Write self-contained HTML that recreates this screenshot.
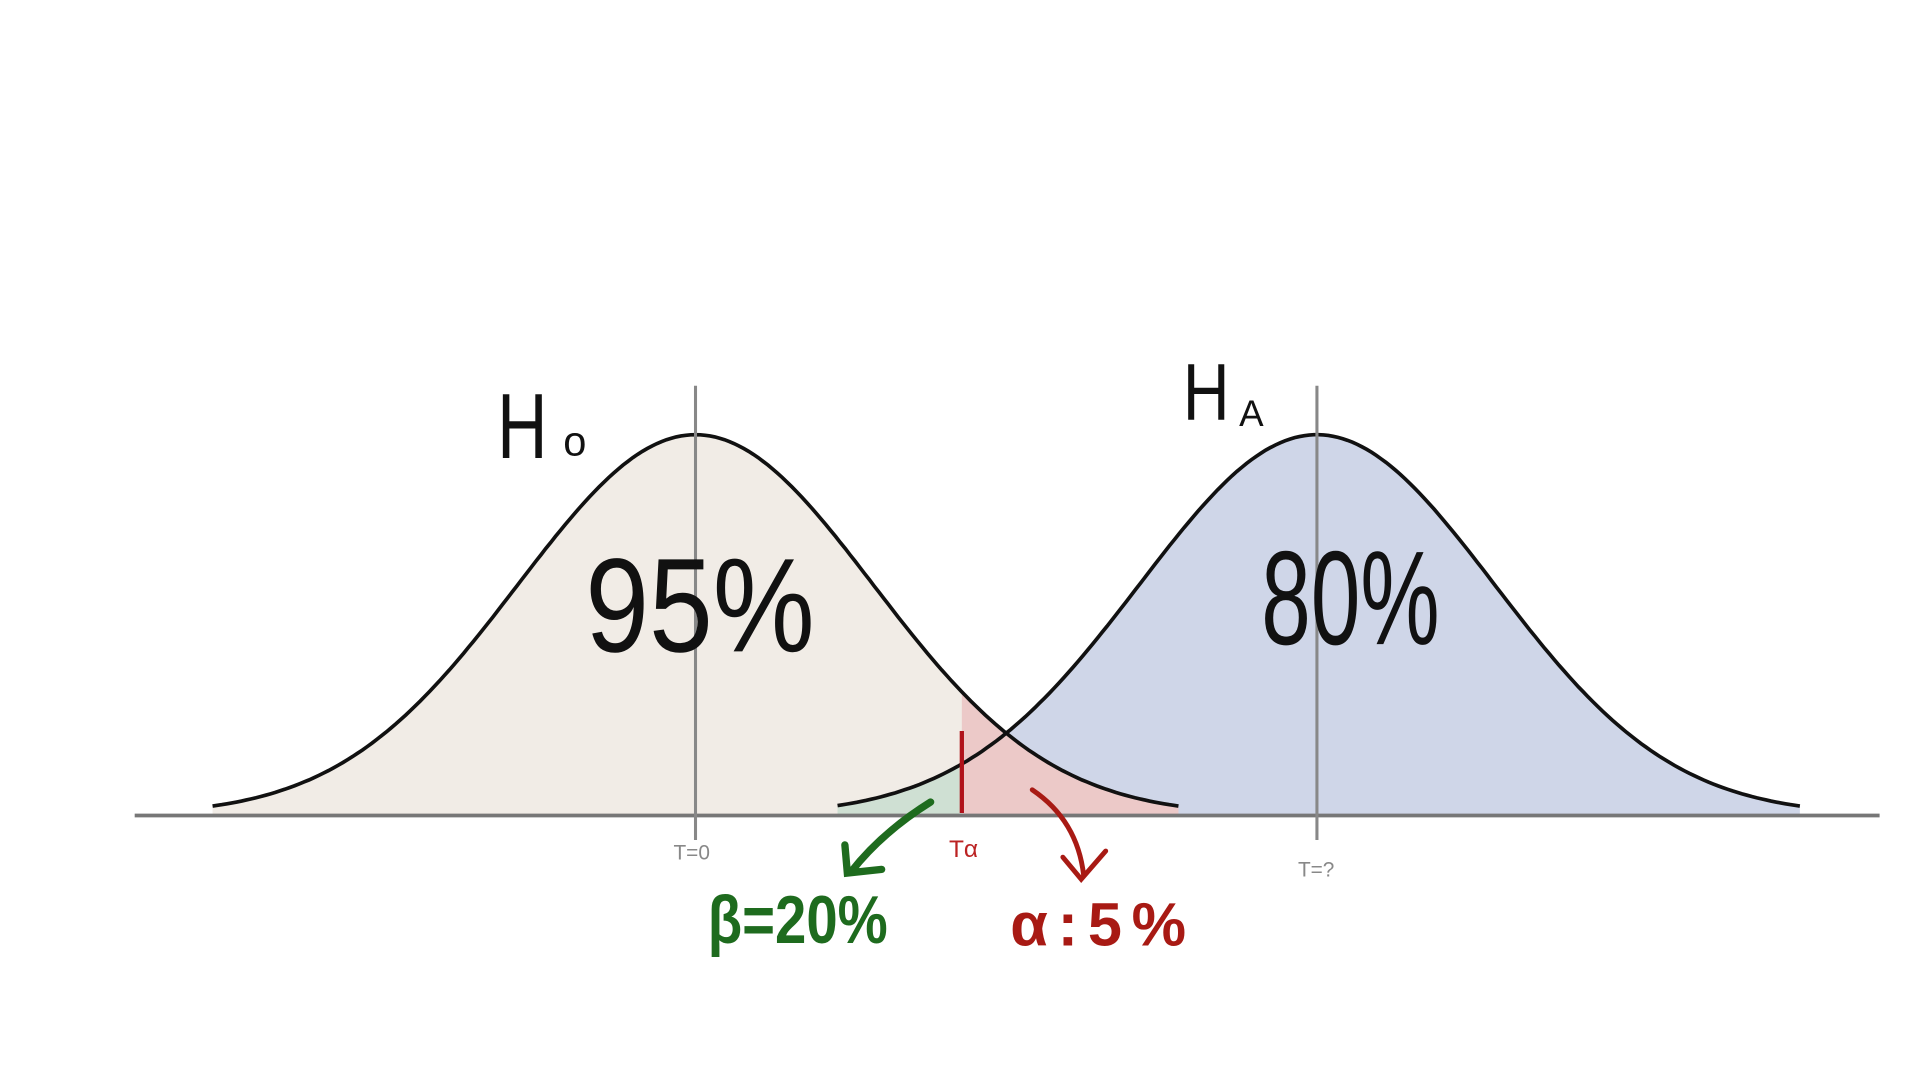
<!DOCTYPE html>
<html><head><meta charset="utf-8"><style>
html,body{margin:0;padding:0;background:#fff;}
svg{display:block;}
text{font-family:"Liberation Sans",sans-serif;}
</style></head><body>
<svg id="chart" width="1920" height="1080" viewBox="0 0 1568 882" xmlns="http://www.w3.org/2000/svg">
<g id="fills"></g>
<line x1="110" y1="666" x2="1535" y2="666" stroke="#777" stroke-width="3"/>
<g id="curves"></g>
<g id="marks"></g>
<text x="0" y="0" font-size="76" fill="#111" transform="translate(406,374) scale(0.75,1)">H</text>
<text x="460" y="372" font-size="34" fill="#111">o</text>
<text x="0" y="0" font-size="66" fill="#111" transform="translate(966,343) scale(0.8,1)">H</text>
<text x="1012" y="348" font-size="30" fill="#111">A</text>
<text x="0" y="0" font-size="104" fill="#111" transform="translate(478,532) scale(0.9,1.05)">95%</text>
<text x="0" y="0" font-size="104" fill="#111" transform="translate(1030,526) scale(0.7,1.05)">80%</text>
<text x="550" y="702" font-size="17" fill="#888">T=0</text>
<text x="775" y="700" font-size="20" fill="#b22">Tα</text>
<text x="1060" y="716" font-size="17" fill="#888">T=?</text>
<text x="0" y="0" font-size="50" font-weight="bold" fill="#1e6b1e" transform="translate(578,770) scale(0.92,1.1)">β=20%</text>
<text x="0" y="0" font-size="50" font-weight="bold" fill="#a81a14" letter-spacing="8" transform="translate(825,772)">α:5%</text>
<path d="M760,655 Q720,680 695,712 M690,690 L692,713 L720,710" fill="none" stroke="#1e6b1e" stroke-width="6" stroke-linecap="round"/>
<path d="M843,645 Q880,670 885,715 M868,700 L883,718 L903,695" fill="none" stroke="#a81a14" stroke-width="4" stroke-linecap="round"/>
<script>
const dists = ["H0", "HA"];
const means = [0, 3.5];
const sds = [1, 1];
const ranges = [[-2.72, 2.72], [-2.7, 2.72]];
const tAlpha = 1.5;
const peakHeight = 311;

function xS(v){ return 568 + v*145; }
function yS(d){ return 666 - d*peakHeight; }
function dens(v, m, s){ return Math.exp(-0.5*Math.pow((v-m)/s,2)); }
const ns="http://www.w3.org/2000/svg";
function pathFor(i, a, b, close){
  let d=""; const n=200;
  for(let k=0;k<=n;k++){ const v=a+(b-a)*k/n; const x=xS(v), y=yS(dens(v,means[i],sds[i])); d+=(k?"L":"M")+x.toFixed(1)+","+y.toFixed(1); }
  if(close) d+="L"+xS(b).toFixed(1)+",665L"+xS(a).toFixed(1)+",665Z";
  return d;
}
const fills=document.getElementById("fills"), curves=document.getElementById("curves"), marks=document.getElementById("marks");
const fillCols=["#f1ece6","#cfd6e8"];
dists.forEach((nm,i)=>{
  const a=means[i]+ranges[i][0], b=means[i]+ranges[i][1];
  const f=document.createElementNS(ns,"path");
  f.setAttribute("d",pathFor(i,a,b,true)); f.setAttribute("fill",fillCols[i]);
  
  
  fills.appendChild(f);
});
const betaR=document.createElementNS(ns,"path");
betaR.setAttribute("d",pathFor(1,means[1]+ranges[1][0],tAlpha,true)); betaR.setAttribute("fill","#cfe0d3");


fills.appendChild(betaR);
const alphaR=document.createElementNS(ns,"path");
alphaR.setAttribute("d",pathFor(0,tAlpha,means[0]+ranges[0][1],true)); alphaR.setAttribute("fill","#ecc9c8");


fills.appendChild(alphaR);
dists.forEach((nm,i)=>{
  const a=means[i]+ranges[i][0], b=means[i]+ranges[i][1];
  const c=document.createElementNS(ns,"path");
  c.setAttribute("d",pathFor(i,a,b,false)); c.setAttribute("fill","none"); c.setAttribute("stroke","#111"); c.setAttribute("stroke-width","3");
  
  
  curves.appendChild(c);
  const l=document.createElementNS(ns,"line");
  l.setAttribute("x1",xS(means[i])); l.setAttribute("x2",xS(means[i]));
  l.setAttribute("y1",yS(1)-40); l.setAttribute("y2",686);
  l.setAttribute("stroke","#888"); l.setAttribute("stroke-width","2.5");
  
  
  marks.appendChild(l);
});
const tl=document.createElementNS(ns,"line");
tl.setAttribute("x1",xS(tAlpha)); tl.setAttribute("x2",xS(tAlpha));
tl.setAttribute("y1",597); tl.setAttribute("y2",664);
tl.setAttribute("stroke","#b0121a"); tl.setAttribute("stroke-width","3.5");


marks.appendChild(tl);
</script>
</svg>
</body></html>
